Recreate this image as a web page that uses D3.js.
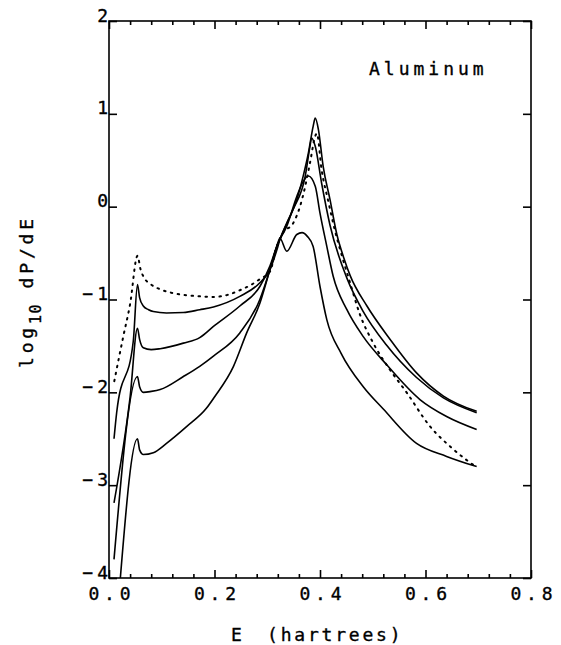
<!DOCTYPE html>
<html>
<head>
<meta charset="utf-8">
<script src="https://cdn.jsdelivr.net/npm/d3@7"></script>
<style>
  body { margin: 0; background: white; }
  text { font-family: "DejaVu Sans Mono", "Liberation Mono", monospace; fill: black; stroke: black; stroke-width: 0.35px; }
  .axis path, .axis line { stroke: black; stroke-width: 1.6; }
  .curve { fill: none; stroke: black; stroke-width: 1.6; stroke-linejoin: round; }
  .dotted { fill: none; stroke: black; stroke-width: 2; stroke-dasharray: 1.5 5.5; stroke-linecap: round; }
</style>
</head>
<body>
<script>

// tick values
var xMajor = [0.0, 0.2, 0.4, 0.6, 0.8];
var xMinor = [0.04, 0.08, 0.12, 0.16, 0.24, 0.28, 0.32, 0.36, 0.44, 0.48, 0.52, 0.56, 0.64, 0.68, 0.72, 0.76];
var yMajor = [-4, -3, -2, -1, 0, 1, 2];

// curves as [E, log10 dP/dE]
var curveA = [[0.0095,-2.50],[0.0145,-2.22],[0.046,-1.45],[0.054,-0.84],[0.058,-0.98],[0.065,-1.07],
  [0.075,-1.11],[0.084,-1.13],[0.109,-1.145],[0.141,-1.14],[0.172,-1.11],[0.198,-1.08],[0.248,-0.966],
  [0.286,-0.82],[0.305,-0.68],[0.318,-0.47],[0.324,-0.355],[0.337,-0.176],[0.356,0.075],[0.368,0.326],
  [0.378,0.578],[0.387,0.865],[0.391,0.955],[0.397,0.83],[0.406,0.434],[0.419,0.075],[0.432,-0.30],
  [0.445,-0.55],[0.457,-0.74],[0.489,-1.07],[0.533,-1.43],[0.583,-1.79],[0.634,-2.04],[0.697,-2.205]];

var curveB = [[0.0095,-3.19],[0.040,-2.05],[0.054,-1.31],[0.058,-1.43],[0.065,-1.52],[0.080,-1.54],
  [0.097,-1.53],[0.141,-1.47],[0.172,-1.41],[0.198,-1.29],[0.248,-1.07],[0.286,-0.86],[0.305,-0.64],
  [0.318,-0.43],[0.330,-0.27],[0.349,-0.03],[0.372,0.33],[0.381,0.65],[0.384,0.74],[0.391,0.65],
  [0.403,0.255],[0.419,-0.20],[0.451,-0.77],[0.482,-1.13],[0.526,-1.49],[0.583,-1.84],[0.634,-2.06],
  [0.697,-2.22]];

var curveC = [[0.0095,-3.80],[0.054,-1.83],[0.058,-1.94],[0.065,-2.00],[0.080,-1.99],[0.097,-1.97],
  [0.141,-1.83],[0.172,-1.72],[0.198,-1.61],[0.248,-1.36],[0.286,-1.00],[0.305,-0.68],[0.318,-0.43],
  [0.337,-0.21],[0.356,0.11],[0.368,0.27],[0.378,0.33],[0.391,0.22],[0.400,-0.07],[0.413,-0.43],
  [0.425,-0.75],[0.451,-1.11],[0.482,-1.40],[0.526,-1.70],[0.590,-2.08],[0.640,-2.26],[0.697,-2.40]];

var curveD = [[0.0215,-4.00],[0.054,-2.50],[0.058,-2.62],[0.065,-2.67],[0.084,-2.65],[0.109,-2.55],
  [0.147,-2.37],[0.185,-2.17],[0.200,-2.05],[0.236,-1.72],[0.261,-1.36],[0.286,-1.04],[0.305,-0.68],
  [0.318,-0.43],[0.324,-0.34],[0.337,-0.48],[0.356,-0.30],[0.366,-0.28],[0.376,-0.32],[0.387,-0.43],
  [0.400,-0.86],[0.413,-1.22],[0.440,-1.58],[0.482,-1.94],[0.520,-2.18],[0.583,-2.55],[0.640,-2.69],
  [0.697,-2.80]];

var dotted = [[0.010,-1.88],[0.027,-1.40],[0.040,-1.05],[0.054,-0.53],[0.060,-0.68],[0.066,-0.76],
  [0.080,-0.84],[0.097,-0.89],[0.120,-0.93],[0.141,-0.95],[0.170,-0.965],[0.200,-0.972],[0.225,-0.95],
  [0.248,-0.90],[0.270,-0.84],[0.286,-0.78],[0.305,-0.70],[0.318,-0.43],[0.330,-0.28],[0.349,-0.18],
  [0.362,0.00],[0.372,0.22],[0.381,0.47],[0.391,0.76],[0.394,0.79],[0.403,0.40],[0.416,0.05],
  [0.428,-0.25],[0.440,-0.50],[0.457,-0.82],[0.475,-1.15],[0.501,-1.47],[0.533,-1.76],[0.564,-2.00],
  [0.609,-2.37],[0.650,-2.60],[0.678,-2.73],[0.695,-2.80]];

var w = 561;
var h = 645;
var margin = {top: 21, right: 30, bottom: 67, left: 109};

var svg = d3.select("body")
            .append("svg")
            .attr("width", w)
            .attr("height", h);

var xScale = d3.scaleLinear()
               .domain([0, 0.8])
               .range([margin.left, w - margin.right]);

var yScale = d3.scaleLinear()
               .domain([-4, 2])
               .range([h - margin.bottom, margin.top]);

// frame
svg.append("rect")
   .attr("x", margin.left)
   .attr("y", margin.top)
   .attr("width", xScale(0.8) - xScale(0))
   .attr("height", yScale(-4) - yScale(2))
   .style("fill", "none")
   .style("stroke", "black")
   .style("stroke-width", 1.6);

// bottom axis, ticks inward
var bottom = svg.append("g")
   .attr("class", "axis")
   .attr("transform", "translate(0," + yScale(-4) + ")")
   .call(d3.axisBottom(xScale).tickValues(xMajor).tickSize(-8).tickSizeOuter(0)
           .tickPadding(9).tickFormat(d3.format(".1f")));
bottom.selectAll("text")
   .style("font-size", "18px")
   .style("letter-spacing", "4.8px")
   .attr("dx", "2.4");
bottom.select(".domain").remove();

svg.append("g")
   .attr("class", "axis")
   .attr("transform", "translate(0," + yScale(-4) + ")")
   .call(d3.axisBottom(xScale).tickValues(xMinor).tickSize(-4).tickFormat(""))
   .select(".domain").remove();

// top axis
svg.append("g")
   .attr("class", "axis")
   .attr("transform", "translate(0," + yScale(2) + ")")
   .call(d3.axisTop(xScale).tickValues(xMajor).tickSize(-8).tickFormat(""))
   .select(".domain").remove();

svg.append("g")
   .attr("class", "axis")
   .attr("transform", "translate(0," + yScale(2) + ")")
   .call(d3.axisTop(xScale).tickValues(xMinor).tickSize(-4).tickFormat(""))
   .select(".domain").remove();

// left axis with labels sitting on the tick
var left = svg.append("g")
   .attr("class", "axis")
   .attr("transform", "translate(" + xScale(0) + ",0)")
   .call(d3.axisLeft(yScale).tickValues(yMajor).tickSize(-8).tickPadding(0)
           .tickFormat(function(d) { return d < 0 ? "\u2212" + Math.abs(d) : d; }));
left.selectAll("text")
   .style("font-size", "18px")
   .style("letter-spacing", "4px")
   .attr("x", 3)
   .attr("dy", "0");
left.select(".domain").remove();

// right axis
svg.append("g")
   .attr("class", "axis")
   .attr("transform", "translate(" + xScale(0.8) + ",0)")
   .call(d3.axisRight(yScale).tickValues(yMajor).tickSize(-8).tickFormat(""))
   .select(".domain").remove();

// curves
var line = d3.line()
             .x(function(d) { return xScale(d[0]); })
             .y(function(d) { return yScale(d[1]); })
             .curve(d3.curveMonotoneX);

svg.selectAll(".curve")
   .data([curveA, curveB, curveC, curveD])
   .enter().append("path")
   .attr("class", "curve")
   .attr("d", line);

svg.append("path")
   .datum(dotted)
   .attr("class", "dotted")
   .attr("d", line);

// label inside plot
svg.append("text")
   .attr("x", 369)
   .attr("y", 75)
   .style("font-size", "18px")
   .style("letter-spacing", "4px")
   .text("Aluminum");

// x axis title
var xt = svg.append("text")
   .attr("y", 641)
   .style("font-size", "18px")
   .style("letter-spacing", "2.8px");
xt.append("tspan").attr("x", 231).text("E");
xt.append("tspan").attr("x", 267).text("(hartrees)");

// y axis title, rotated
var yt = svg.append("text")
   .attr("transform", "translate(33,368) rotate(-90)")
   .style("font-size", "18px")
   .style("letter-spacing", "3.8px");
yt.append("tspan").text("log");
yt.append("tspan").attr("dy", 8).style("font-size", "15px").style("letter-spacing", "1.5px").text("10");
yt.append("tspan").attr("dy", -8).text(" dP/dE");

</script>
</body>
</html>
